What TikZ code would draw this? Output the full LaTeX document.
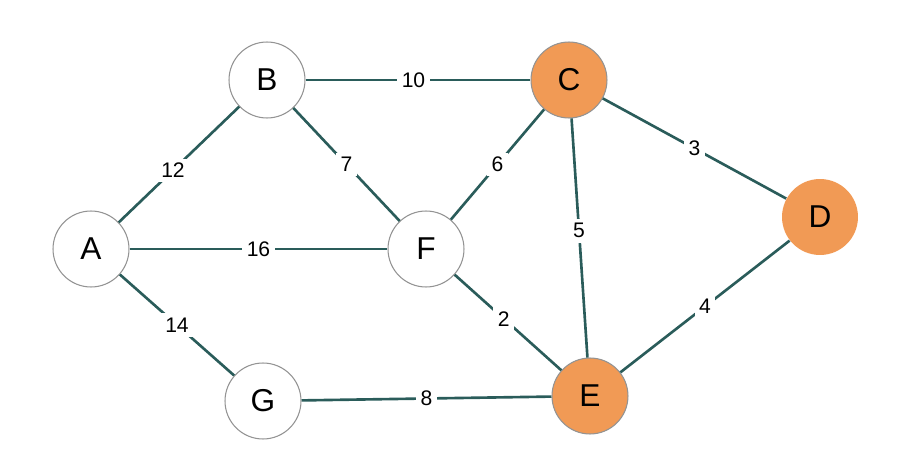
\documentclass[tikz,border=0pt]{standalone}
\usepackage{fontspec}
\setmainfont{Liberation Sans}
\definecolor{edgeteal}{HTML}{2A5C5A}
\definecolor{visited}{HTML}{F19A55}

\begin{document}
\begin{tikzpicture}[
  x=0.02cm, y=-0.02cm,
  vertex/.style={circle, draw=gray!85, line width=0.6pt, fill=white, minimum size=1.52cm, inner sep=0pt, font=\fontsize{18}{20}\selectfont},
  picked/.style={vertex, fill=visited},
  link/.style={draw=edgeteal, line width=1.5pt},
  weight/.style={fill=white, inner sep=2.5pt, font=\fontsize{12}{14}\selectfont}
]
\useasboundingbox (0,0) rectangle (914,476);

% vertices
\node[vertex] (A) at (91,249) {A};
\node[vertex] (B) at (267,80) {B};
\node[picked] (C) at (569,80) {C};
\node[picked, draw=none] (D) at (820,217) {D};
\node[picked] (E) at (590,396) {E};
\node[vertex] (F) at (426,249) {F};
\node[vertex] (G) at (263,401) {G};

% weighted edges
\draw[link] (A) -- node[weight, pos=0.45] {12} (B);
\draw[link] (A) -- node[weight] {16} (F);
\draw[link] (A) -- node[weight] {14} (G);
\draw[link] (B) -- node[weight, pos=0.48] {10} (C);
\draw[link] (B) -- node[weight] {7} (F);
\draw[link] (F) -- node[weight] {6} (C);
\draw[link] (C) -- node[weight] {3} (D);
\draw[link] (C) -- node[weight, pos=0.47] {5} (E);
\draw[link] (F) -- node[weight, pos=0.46] {2} (E);
\draw[link] (D) -- node[weight] {4} (E);
\draw[link] (G) -- node[weight] {8} (E);
\end{tikzpicture}
\end{document}
